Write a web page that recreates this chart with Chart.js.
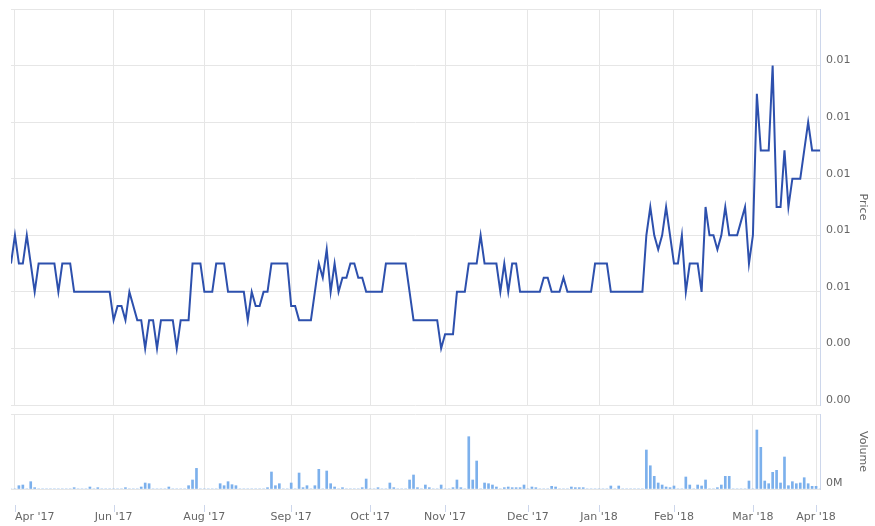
<!DOCTYPE html>
<html>
<head>
<meta charset="utf-8">
<script src="https://cdn.jsdelivr.net/npm/chart.js@4.4.1/dist/chart.umd.min.js"></script>
<style>
  html, body { margin: 0; padding: 0; background: #fff; overflow: hidden; }
  #wrap { position: relative; width: 875px; height: 526px; }
  #cPrice { position: absolute; left: 0; top: 0; }
  #cVol { position: absolute; left: 0; top: 410px; }
</style>
</head>
<body>
<div id="wrap">
  <canvas id="cPrice" width="875" height="410"></canvas>
  <canvas id="cVol" width="875" height="116"></canvas>
</div>
<script>
/* ── dati: un punto per seduta (asse ordinale, indice = seduta) ── */
const tickIndex  = [1, 26, 49, 71, 91, 110, 131, 149, 168, 188, 204];
const tickLabels = ["Apr '17", "Jun '17", "Aug '17", "Sep '17", "Oct '17", "Nov '17",
                    "Dec '17", "Jan '18", "Feb '18", "Mar '18", "Apr '18"];
const priceTicks  = [0.003, 0.004, 0.005, 0.006, 0.007, 0.008, 0.009, 0.010];
const volumeTicks = [0, 400000];

const price = [
  0.0055, 0.006, 0.0055, 0.0055, 0.006, 0.0055, 0.005, 0.0055, 0.0055, 0.0055,
  0.0055, 0.0055, 0.005, 0.0055, 0.0055, 0.0055, 0.005, 0.005, 0.005, 0.005,
  0.005, 0.005, 0.005, 0.005, 0.005, 0.005, 0.0045, 0.00475, 0.00475, 0.0045,
  0.005, 0.00475, 0.0045, 0.0045, 0.004, 0.0045, 0.0045, 0.004, 0.0045, 0.0045,
  0.0045, 0.0045, 0.004, 0.0045, 0.0045, 0.0045, 0.0055, 0.0055, 0.0055, 0.005,
  0.005, 0.005, 0.0055, 0.0055, 0.0055, 0.005, 0.005, 0.005, 0.005, 0.005,
  0.0045, 0.005, 0.00475, 0.00475, 0.005, 0.005, 0.0055, 0.0055, 0.0055, 0.0055,
  0.0055, 0.00475, 0.00475, 0.0045, 0.0045, 0.0045, 0.0045, 0.005, 0.0055, 0.00525,
  0.00575, 0.005, 0.0055, 0.005, 0.00525, 0.00525, 0.0055, 0.0055, 0.00525, 0.00525,
  0.005, 0.005, 0.005, 0.005, 0.005, 0.0055, 0.0055, 0.0055, 0.0055, 0.0055,
  0.0055, 0.005, 0.0045, 0.0045, 0.0045, 0.0045, 0.0045, 0.0045, 0.0045, 0.004,
  0.00425, 0.00425, 0.00425, 0.005, 0.005, 0.005, 0.0055, 0.0055, 0.0055, 0.006,
  0.0055, 0.0055, 0.0055, 0.0055, 0.005, 0.0055, 0.005, 0.0055, 0.0055, 0.005,
  0.005, 0.005, 0.005, 0.005, 0.005, 0.00525, 0.00525, 0.005, 0.005, 0.005,
  0.00525, 0.005, 0.005, 0.005, 0.005, 0.005, 0.005, 0.005, 0.0055, 0.0055,
  0.0055, 0.0055, 0.005, 0.005, 0.005, 0.005, 0.005, 0.005, 0.005, 0.005,
  0.005, 0.006, 0.0065, 0.006, 0.00575, 0.006, 0.0065, 0.006, 0.0055, 0.0055,
  0.006, 0.005, 0.0055, 0.0055, 0.0055, 0.005, 0.0065, 0.006, 0.006, 0.00575,
  0.006, 0.0065, 0.006, 0.006, 0.006, 0.00625, 0.0065, 0.0055, 0.006, 0.0085,
  0.0075, 0.0075, 0.0075, 0.009, 0.0065, 0.0065, 0.0075, 0.0065, 0.007, 0.007,
  0.007, 0.0075, 0.008, 0.0075, 0.0075, 0.0075
];

const volume = [
  0, 0, 17600, 21300, 0, 39000, 7000, 0, 0, 0,
  0, 0, 0, 0, 0, 0, 7000, 0, 0, 0,
  10700, 0, 7000, 0, 0, 0, 0, 0, 0, 7000,
  0, 0, 0, 10700, 32000, 28300, 0, 0, 0, 0,
  10700, 0, 0, 0, 0, 17600, 48000, 110000, 0, 0,
  0, 0, 0, 28300, 17600, 39000, 23000, 17600, 0, 0,
  0, 0, 0, 0, 0, 7000, 90700, 17600, 28300, 0,
  0, 32000, 0, 85300, 7000, 17600, 0, 17600, 105000, 0,
  96000, 28300, 10700, 0, 7000, 0, 0, 0, 0, 7000,
  53300, 0, 0, 7000, 0, 0, 32000, 7000, 0, 0,
  0, 48000, 74700, 7000, 0, 21300, 7000, 0, 0, 21300,
  0, 0, 7000, 48000, 7000, 0, 279000, 48000, 149300, 0,
  32000, 28300, 21300, 10700, 0, 7000, 10700, 7000, 7000, 7000,
  21300, 0, 10700, 7000, 0, 0, 0, 14400, 10700, 0,
  0, 0, 10700, 7000, 7000, 7000, 0, 0, 0, 0,
  0, 0, 16000, 0, 16000, 0, 0, 0, 0, 0,
  0, 208000, 124000, 67700, 32000, 21300, 10700, 7000, 16000, 0,
  0, 64000, 21300, 0, 21300, 16000, 48000, 0, 0, 7000,
  21300, 67700, 67700, 0, 0, 0, 0, 42700, 0, 314700,
  222400, 42700, 28300, 89000, 99700, 32000, 170700, 17600, 39000, 28300,
  32000, 60300, 28300, 14400, 14400, 0
];

/* ── stile ── */
const FONT  = { family: "'DejaVu Sans', sans-serif", size: 11 };
const GRID  = '#e6e6e6';
const AXIS  = '#ccd6eb';
const LABEL = '#666666';
const LINE  = '#2d50ad';
const BAR   = '#7cb0ec';
const X_MAX = price.length - 1;

// asse x condiviso dai due pannelli; il tick finale vuoto serve solo a centrare "Apr '18"
function xAxis(showLabels, height) {
  return {
    type: 'linear', min: 0, max: X_MAX, bounds: 'data', offset: false,
    afterBuildTicks: s => { s.ticks = tickIndex.map(v => ({ value: v })).concat([{ value: X_MAX }]); },
    afterFit: s => { s.height = height; s.paddingLeft = 0; s.paddingRight = 0; },
    grid: { offset: false, drawTicks: false, color: c => (c.tick && c.tick.value === X_MAX) ? 'rgba(0,0,0,0)' : GRID },
    border: { display: false },
    ticks: {
      display: showLabels, align: 'inner', autoSkip: false, maxRotation: 0, padding: 22,
      color: LABEL, font: FONT,
      callback: v => { const k = tickIndex.indexOf(v); return k < 0 ? '' : tickLabels[k]; }
    }
  };
}

function yAxis(ticksArr, min, max, fmt, offs, title) {
  return {
    position: 'right', min, max,
    afterBuildTicks: s => { s.ticks = ticksArr.map(v => ({ value: v })); },
    afterFit: s => { s.width = 55; s.paddingTop = 0; s.paddingBottom = 0; },
    grid: { color: GRID, drawTicks: false },
    border: { display: true, color: AXIS },
    ticks: { color: LABEL, font: FONT, padding: 6, labelOffset: offs, callback: fmt },
    title: { display: true, text: title, color: LABEL, font: FONT, padding: { top: 6, bottom: 0 } }
  };
}

const baseOpts = {
  responsive: false, animation: false, events: [],
  plugins: { legend: { display: false }, tooltip: { enabled: false } }
};

new Chart(document.getElementById('cPrice'), {
  type: 'line',
  data: {
    datasets: [{
      data: price.map((v, i) => ({ x: i, y: v })),
      borderColor: LINE, borderWidth: 2, pointRadius: 0, tension: 0, fill: false
    }]
  },
  options: Object.assign({}, baseOpts, {
    layout: { autoPadding: false, padding: { left: 11, top: 9, right: 0, bottom: 5 } },
    scales: {
      x: xAxis(false, 0),
      y: yAxis(priceTicks, 0.003, 0.010, v => v > 0.0095 ? '' : (v + 1e-9).toFixed(2), -5, 'Price')
    }
  })
});

// tacche dell'asse x, staccate dal pannello volumi come nell'originale
const tickMarks = {
  id: 'tickMarks',
  afterDraw(chart) {
    const sx = chart.scales.x, ctx = chart.ctx;
    ctx.save();
    ctx.strokeStyle = AXIS; ctx.lineWidth = 1;
    tickIndex.forEach(v => {
      const px = Math.round(sx.getPixelForValue(v)) + 0.5;
      ctx.beginPath(); ctx.moveTo(px, sx.top + 16); ctx.lineTo(px, sx.top + 23); ctx.stroke();
    });
    ctx.restore();
  }
};

new Chart(document.getElementById('cVol'), {
  type: 'bar',
  data: {
    datasets: [{
      data: volume.map((v, i) => ({ x: i, y: v })),
      backgroundColor: BAR, borderWidth: 0, barThickness: 2
    }]
  },
  options: Object.assign({}, baseOpts, {
    layout: { autoPadding: false, padding: { left: 11, top: 4, right: 0, bottom: 2 } },
    scales: {
      x: xAxis(true, 35),
      y: yAxis(volumeTicks, 0, 400000, v => v === 0 ? (v / 1e6).toFixed(0) + 'M' : '', -6, 'Volume')
    }
  }),
  plugins: [tickMarks]
});
</script>
</body>
</html>
